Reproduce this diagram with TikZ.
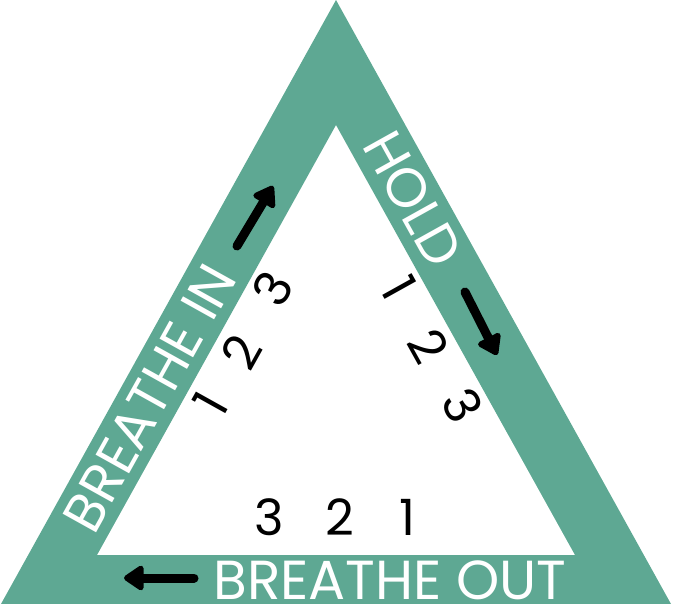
\documentclass[tikz,border=0pt]{standalone}
\usepackage{fontspec}
\newfontfamily\labelfont{Poppins}
\usetikzlibrary{arrows.meta}
\definecolor{bandteal}{RGB}{94,168,147}
\begin{document}
\begin{tikzpicture}[x=1pt,y=-1pt,
  band/.style={fill=bandteal, even odd rule},
  lbl/.style={text=white, font=\labelfont\fontsize{55}{55}\selectfont, inner sep=0pt},
  num/.style={font=\labelfont\fontsize{50}{50}\selectfont, inner sep=0pt},
  blackarrow/.style={line width=9pt, line cap=round, -{Triangle[width=28pt,length=22pt,round]}}]
\useasboundingbox (0,0) rectangle (673,604);
\fill[band] (336,0) -- (1,604) -- (671,604) -- cycle (336,125) -- (97,555) -- (575,555) -- cycle;
% labels
\node[lbl, rotate=60.9] (in) at (149.4,398) {BREATHE IN};
\node[lbl, rotate=-60.9] (hold) at (413,199) {HOLD};
\node[lbl] (out) at (390,580) {BREATHE OUT};
% arrows
\coordinate (a1s) at (237,246); \coordinate (a1e) at (273,186);
\coordinate (a2s) at (465,292); \coordinate (a2e) at (497,355);
\coordinate (a3s) at (194,578); \coordinate (a3e) at (124,578);
\draw[blackarrow] (a1s) -- (a1e);
\draw[blackarrow] (a2s) -- (a2e);
\draw[blackarrow] (a3s) -- (a3e);
% counts
\node[num, rotate=60.9] (l1) at (211,404) {1};
\node[num, rotate=60.9] (l2) at (241,352) {2};
\node[num, rotate=60.9] (l3) at (273,289) {3};
\node[num, rotate=-60.9] (r1) at (399,288) {1};
\node[num, rotate=-60.9] (r2) at (429,346) {2};
\node[num, rotate=-60.9] (r3) at (463,405) {3};
\node[num] (b3) at (269,517) {3};
\node[num] (b2) at (340,517) {2};
\node[num] (b1) at (407,517) {1};
\end{tikzpicture}
\end{document}
